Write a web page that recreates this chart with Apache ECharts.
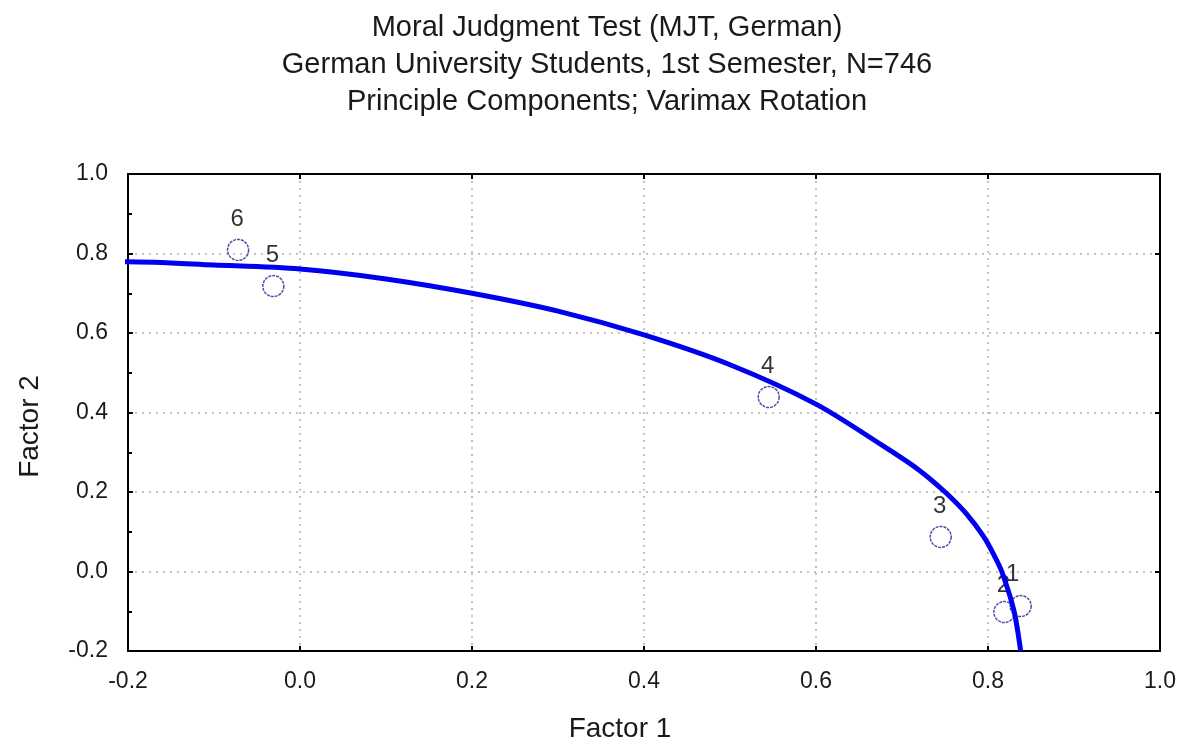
<!DOCTYPE html>
<html>
<head>
<meta charset="utf-8">
<script src="https://cdn.jsdelivr.net/npm/echarts@6/dist/echarts.min.js"></script>
<style>
  html, body { margin: 0; padding: 0; background: #fff; }
  #chart { width: 1181px; height: 742px; }
</style>
</head>
<body>
<div id="chart"></div>
<script>
// factor loadings
const pointNames = ['1', '2', '3', '4', '5', '6']
const factor1 = [0.838, 0.819, 0.745, 0.545, -0.031, -0.072]
const factor2 = [-0.087, -0.102, 0.087, 0.439, 0.718, 0.809]

// fitted curve (traced)
const curveX = [-0.218, -0.2, -0.1, 0.0, 0.1, 0.2, 0.3, 0.4, 0.5, 0.6, 0.678, 0.718, 0.75, 0.775, 0.795, 0.808, 0.816, 0.83, 0.838]
const curveY = [0.779, 0.779, 0.771, 0.761, 0.736, 0.70, 0.655, 0.595, 0.52, 0.421, 0.316, 0.258, 0.2, 0.145, 0.0875, 0.037, 0.0, -0.097, -0.2]

const xTicks = [-0.2, 0.0, 0.2, 0.4, 0.6, 0.8, 1.0]
const yTicks = [-0.2, 0.0, 0.2, 0.4, 0.6, 0.8, 1.0]

// label nudges (label 1 sits a bit left)
const labelShift = { '1': [-8, -32], '2': [-1, -27] }

let myChart = echarts.init(document.getElementById('chart'))

const fontFam = '"Liberation Sans", Arial, sans-serif'
const txt = '#1a1a1a'

function axisBase (ticks, pos) {
  return {
    type: 'value',
    position: pos,
    min: ticks[0],
    max: ticks[ticks.length - 1],
    interval: 0.2,
    axisLine: { show: true, onZero: false, lineStyle: { color: '#000', width: 2 } },
    axisTick: { show: true, inside: true, length: 5, lineStyle: { color: '#000', width: 2 } },
    minorTick: { show: false },
    splitLine: { show: false },
    axisLabel: { show: false }
  }
}

let xMain = axisBase(xTicks, 'bottom')
xMain.name = 'Factor 1'
xMain.nameLocation = 'middle'
xMain.nameGap = 64
xMain.nameTextStyle = { fontFamily: fontFam, fontSize: 28, color: txt, padding: [0, 48, 0, 0] }
xMain.axisLabel = { show: true, margin: 19, fontFamily: fontFam, fontSize: 23, color: txt, formatter: v => v.toFixed(1) }
xMain.splitLine = { show: true, lineStyle: { color: '#b0b0b0', type: [2, 5], width: 1.5 } }

let xTop = axisBase(xTicks, 'top')

let yMain = axisBase(yTicks, 'left')
yMain.name = 'Factor 2'
yMain.nameLocation = 'middle'
yMain.nameGap = 84
yMain.nameTextStyle = { fontFamily: fontFam, fontSize: 28, color: txt, padding: [0, 28, 0, 0] }
yMain.minorTick = { show: true, splitNumber: 2, length: 4, lineStyle: { color: '#000', width: 2 } }
yMain.axisLabel = { show: true, margin: 20, fontFamily: fontFam, fontSize: 23, color: txt, formatter: v => v.toFixed(1) }
yMain.splitLine = { show: true, lineStyle: { color: '#b0b0b0', type: [2, 5], width: 1.5 } }

let yRight = axisBase(yTicks, 'right')

myChart.setOption({
  animation: false,
  backgroundColor: '#fff',
  title: {
    text: 'Moral Judgment Test (MJT, German)\nGerman University Students, 1st Semester, N=746\nPrinciple Components; Varimax Rotation',
    left: 602,
    textAlign: 'center',
    top: 4,
    textStyle: { fontFamily: fontFam, fontSize: 29, fontWeight: 'normal', color: txt, lineHeight: 37 }
  },
  grid: {
    left: 128, right: 21, top: 174, bottom: 91,
    outerBoundsMode: 'none',
    containLabel: false
  },
  xAxis: [xMain, xTop],
  yAxis: [yMain, yRight],
  series: [
    {
      name: 'loadings',
      type: 'scatter',
      symbol: 'circle',
      symbolSize: 21,
      itemStyle: { color: 'rgba(0,0,0,0)', borderColor: '#20208f', borderWidth: 1.5, borderType: [3, 1] },
      label: {
        show: true,
        position: 'inside',
        fontFamily: fontFam,
        fontSize: 24,
        color: '#000',
        textBorderWidth: 0,
        formatter: p => p.data.name
      },
      data: factor1.map((x, i) => ({
        name: pointNames[i],
        value: [x, factor2[i]],
        label: { offset: labelShift[pointNames[i]] || [-1, -31] }
      })),
      z: 2
    },
    {
      name: 'curve',
      type: 'line',
      smooth: 0.3,
      clip: false,
      symbol: 'none',
      lineStyle: { color: '#0000ee', width: 5 },
      data: curveX.map((x, i) => [x, curveY[i]]),
      z: 3
    }
  ]
})
</script>
</body>
</html>
